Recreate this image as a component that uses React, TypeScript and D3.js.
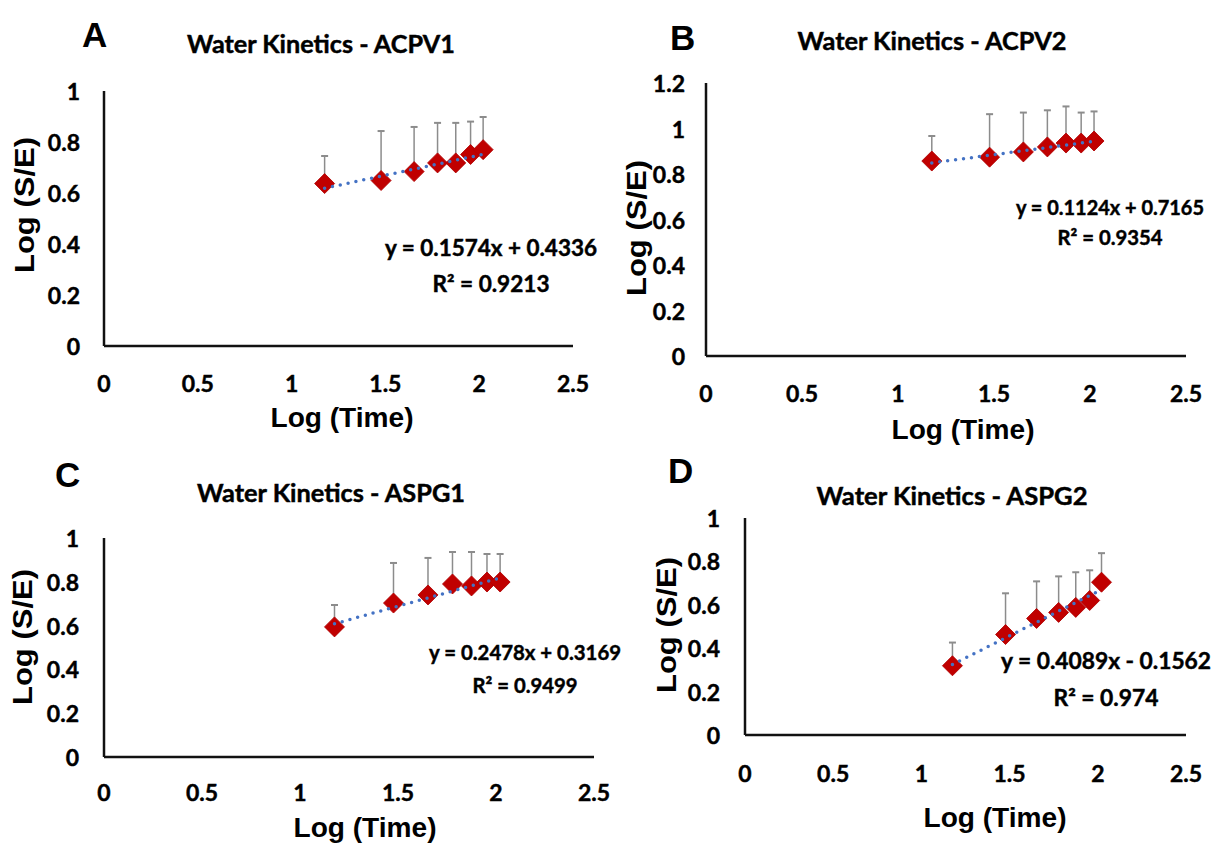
import React from "react";
import * as d3 from "d3";

// ---- Data ----
const logTime = [1.176, 1.477, 1.653, 1.778, 1.875, 1.954, 2.021];

const acpv1Values = [0.637, 0.649, 0.684, 0.718, 0.718, 0.751, 0.77];
const acpv1Errors = [0.108, 0.194, 0.175, 0.157, 0.157, 0.129, 0.128];

const acpv2Values = [0.857, 0.874, 0.897, 0.919, 0.936, 0.936, 0.945];
const acpv2Errors = [0.11, 0.189, 0.173, 0.161, 0.161, 0.134, 0.13];

const aspg1Values = [0.594, 0.703, 0.74, 0.79, 0.781, 0.799, 0.799];
const aspg1Errors = [0.1, 0.183, 0.169, 0.146, 0.155, 0.128, 0.128];

const aspg2Values = [0.319, 0.463, 0.537, 0.565, 0.588, 0.62, 0.704];
const aspg2Errors = [0.107, 0.19, 0.171, 0.166, 0.162, 0.139, 0.134];

const panelLetters = ["A", "B", "C", "D"];
const panelTitles = [
  "Water Kinetics - ACPV1",
  "Water Kinetics - ACPV2",
  "Water Kinetics - ASPG1",
  "Water Kinetics - ASPG2",
];
const fitSlopes = [0.1574, 0.1124, 0.2478, 0.4089];
const fitIntercepts = [0.4336, 0.7165, 0.3169, -0.1562];
const fitEquations = [
  "y = 0.1574x + 0.4336",
  "y = 0.1124x + 0.7165",
  "y = 0.2478x + 0.3169",
  "y = 0.4089x - 0.1562",
];
const fitR2 = ["R² = 0.9213", "R² = 0.9354", "R² = 0.9499", "R² = 0.974"];

const xTicks = [0, 0.5, 1, 1.5, 2, 2.5];
const yTicksOne = [0, 0.2, 0.4, 0.6, 0.8, 1];
const yTicksB = [0, 0.2, 0.4, 0.6, 0.8, 1, 1.2];
const xAxisTitle = "Log (Time)";
const yAxisTitle = "Log (S/E)";

const seriesValues = [acpv1Values, acpv2Values, aspg1Values, aspg2Values];
const seriesErrors = [acpv1Errors, acpv2Errors, aspg1Errors, aspg2Errors];
const yTickSets = [yTicksOne, yTicksB, yTicksOne, yTicksOne];

// ---- Layout (pixel positions) ----
const layouts = [
  { x0: 104, x1: 573, yb: 346, yt: 91, yLabX: 80, xLabY: 383, xtX: 342, xtY: 418, ytX: 25, ytY: 205,
    tX: 321, tY: 43, tW: 268, lX: 82, lY: 47, eX: 491, eY1: 247, eY2: 283, eW: 212, rW: 117, eF: 22 },
  { x0: 706, x1: 1186, yb: 356, yt: 83, yLabX: 685, xLabY: 393, xtX: 963, xtY: 430, ytX: 637, ytY: 228,
    tX: 932, tY: 40, tW: 269, lX: 670, lY: 50, eX: 1110, eY1: 207, eY2: 237, eW: 188, rW: 105, eF: 20 },
  { x0: 104, x1: 594, yb: 757, yt: 538, yLabX: 79, xLabY: 792, xtX: 365, xtY: 828, ytX: 23, ytY: 637,
    tX: 331, tY: 492, tW: 268, lX: 55, lY: 487, eX: 525, eY1: 652, eY2: 685, eW: 192, rW: 105, eF: 20 },
  { x0: 745, x1: 1186, yb: 735, yt: 518, yLabX: 720, xLabY: 773, xtX: 995, xtY: 818, ytX: 667, ytY: 625,
    tX: 952, tY: 495, tW: 271, lX: 668, lY: 483, eX: 1106, eY1: 660, eY2: 697, eW: 210, rW: 105, eF: 22 },
];

const LABEL_FONT = "Lato, 'Open Sans', sans-serif";
const AXIS_FONT = "'Liberation Sans', Arial, sans-serif";
const RED = "#C00000";
const BLUE = "#4472C4";
const GRAY = "#8C8C8C";

const fmt = (v: number) => String(+v.toFixed(1));

const boldText = { stroke: "#000", strokeWidth: 0.45, paintOrder: "stroke" } as const;

function Panel({ i }: { i: number }) {
  const L = layouts[i];
  const yTicks = yTickSets[i];
  const yMax = yTicks[yTicks.length - 1];
  const x = d3.scaleLinear().domain([0, 2.5]).range([L.x0, L.x1]);
  const y = d3.scaleLinear().domain([0, yMax]).range([L.yb, L.yt]);
  const vals = seriesValues[i];
  const errs = seriesErrors[i];
  const diamond = d3.symbol().type(d3.symbolSquare).size(200)() as string;
  const xMin = d3.min(logTime) as number;
  const xMax = d3.max(logTime) as number;
  const fitLine = d3
    .line<number>()
    .x((d) => x(d))
    .y((d) => y(fitSlopes[i] * d + fitIntercepts[i]))([xMin, xMax]) as string;

  return (
    <g>
      {/* panel letter */}
      <text x={L.lX} y={L.lY} fontFamily={AXIS_FONT} fontWeight="bold" fontSize={35} fill="#000">
        {panelLetters[i]}
      </text>
      {/* title */}
      <text
        x={L.tX}
        y={L.tY}
        textAnchor="middle"
        dominantBaseline="central"
        fontFamily={LABEL_FONT}
        fontWeight="bold"
        fontSize={24}
        textLength={L.tW}
        lengthAdjust="spacingAndGlyphs"
        fill="#000"
        {...boldText}
      >
        {panelTitles[i]}
      </text>
      {/* y tick labels */}
      {yTicks.map((t) => (
        <text
          key={"y" + t}
          x={L.yLabX}
          y={y(t)}
          textAnchor="end"
          dominantBaseline="central"
          fontFamily={LABEL_FONT}
          fontWeight="bold"
          fontSize={23}
          fill="#000"
          {...boldText}
        >
          {fmt(t)}
        </text>
      ))}
      {/* x tick labels */}
      {xTicks.map((t) => (
        <text
          key={"x" + t}
          x={x(t)}
          y={L.xLabY}
          textAnchor="middle"
          dominantBaseline="central"
          fontFamily={LABEL_FONT}
          fontWeight="bold"
          fontSize={23}
          fill="#000"
          {...boldText}
        >
          {fmt(t)}
        </text>
      ))}
      {/* axes */}
      <line x1={x(0)} x2={x(0)} y1={y(yMax)} y2={y(0)} stroke="#111" strokeWidth={2.5} />
      <line x1={x(0)} x2={x(2.5)} y1={y(0)} y2={y(0)} stroke="#111" strokeWidth={2.5} />
      {/* axis titles */}
      <text
        x={L.xtX}
        y={L.xtY}
        textAnchor="middle"
        dominantBaseline="central"
        fontFamily={AXIS_FONT}
        fontWeight="bold"
        fontSize={27}
        textLength={143}
        lengthAdjust="spacingAndGlyphs"
        fill="#000"
      >
        {xAxisTitle}
      </text>
      <text
        transform={`translate(${L.ytX},${L.ytY}) rotate(-90)`}
        textAnchor="middle"
        dominantBaseline="central"
        fontFamily={AXIS_FONT}
        fontWeight="bold"
        fontSize={27}
        textLength={136}
        lengthAdjust="spacingAndGlyphs"
        fill="#000"
      >
        {yAxisTitle}
      </text>
      {/* error bars */}
      {logTime.map((t, k) => {
        const cx = x(t);
        const top = y(vals[k] + errs[k]);
        return (
          <g key={"e" + k} stroke={GRAY} strokeWidth={1.5}>
            <line x1={cx} x2={cx} y1={y(vals[k])} y2={top} />
            <line x1={cx - 3.5} x2={cx + 3.5} y1={top} y2={top} strokeWidth={2} />
          </g>
        );
      })}
      {/* markers */}
      {logTime.map((t, k) => (
        <path
          key={"m" + k}
          d={diamond}
          transform={`translate(${x(t)},${y(vals[k])}) rotate(45)`}
          fill={RED}
          stroke="#B00000"
          strokeWidth={0.8}
        />
      ))}
      {/* trendline */}
      <path
        d={fitLine}
        fill="none"
        stroke={BLUE}
        strokeWidth={3.5}
        strokeLinecap="round"
        strokeDasharray="0 8"
      />
      {/* equation */}
      <text
        x={L.eX}
        y={L.eY1}
        textAnchor="middle"
        dominantBaseline="central"
        fontFamily={LABEL_FONT}
        fontWeight="bold"
        fontSize={L.eF}
        textLength={L.eW}
        lengthAdjust="spacingAndGlyphs"
        fill="#000"
        {...boldText}
      >
        {fitEquations[i]}
      </text>
      <text
        x={L.eX}
        y={L.eY2}
        textAnchor="middle"
        dominantBaseline="central"
        fontFamily={LABEL_FONT}
        fontWeight="bold"
        fontSize={L.eF}
        textLength={L.rW}
        lengthAdjust="spacingAndGlyphs"
        fill="#000"
        {...boldText}
      >
        {fitR2[i]}
      </text>
    </g>
  );
}

export default function App() {
  return (
    <svg
      width={1218}
      height={845}
      viewBox="0 0 1218 845"
      style={{ position: "absolute", left: 0, top: 0, background: "#fff" }}
    >
      <rect x={0} y={0} width={1218} height={845} fill="#fff" />
      {[0, 1, 2, 3].map((i) => (
        <Panel key={i} i={i} />
      ))}
    </svg>
  );
}
